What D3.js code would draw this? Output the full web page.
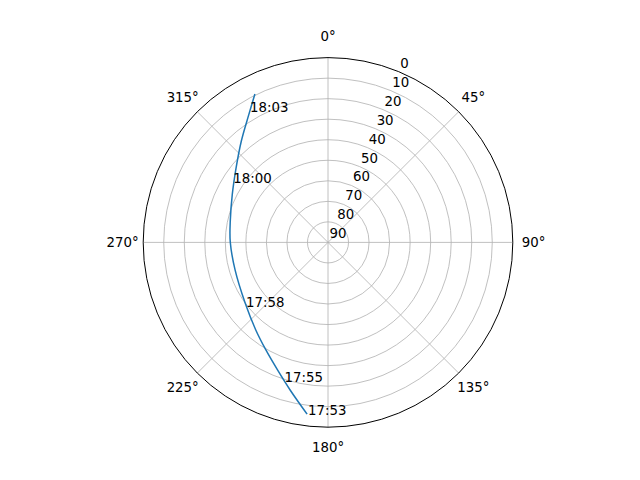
<!DOCTYPE html>
<html>
<head>
<meta charset="utf-8">
<script src="https://cdn.jsdelivr.net/npm/d3@7"></script>
<style>
html,body{margin:0;padding:0;background:#fff;}
svg{display:block;}
text{font-family:"DejaVu Sans",sans-serif;font-size:13.33px;fill:#000;}
</style>
</head>
<body>
<div id="chart"></div>
<script>
// Track of the pass: azimuth (deg, clockwise from north) and elevation (deg)
const trackAz = [187.1, 194.4, 201.6, 210.0, 219.5, 233.8, 253.5, 270.2, 282.2, 296.5, 309.0, 319.4, 328.2, 333.6];
const trackEl = [6.0, 15.8, 23.2, 29.5, 34.7, 40.0, 42.8, 42.4, 41.3, 37.9, 32.4, 25.1, 16.8, 9.7];

// Time labels along the track
const labelTimes = ["17:53", "17:55", "17:58", "18:00", "18:03"];
const labelAz = [186.6, 197.3, 231.8, 302.0, 329.2];
const labelEl = [5.6, 18.9, 39.2, 35.6, 15.9];

// Axis ticks
const angleTicks = [0, 45, 90, 135, 180, 225, 270, 315];
const radialTicks = [0, 10, 20, 30, 40, 50, 60, 70, 80, 90];

const W = 640, H = 480;
const cx = 328, cy = 242.4, R = 184.8;

const svg = d3.select("#chart").append("svg").attr("width", W).attr("height", H);
const g = svg.append("g").attr("transform", `translate(${cx},${cy})`);

const rScale = d3.scaleLinear().domain([90, 0]).range([0, R]);
const aScale = d3.scaleLinear().domain([0, 360]).range([0, 2 * Math.PI]);

const px = (az, el) => rScale(el) * Math.sin(aScale(az));
const py = (az, el) => -rScale(el) * Math.cos(aScale(az));

// radial grid circles
g.selectAll("circle.grid").data(radialTicks.filter(v => v > 0 && v < 90))
  .enter().append("circle")
  .attr("r", d => rScale(d))
  .attr("fill", "none").attr("stroke", "#b0b0b0").attr("stroke-width", 0.8);

// angular grid lines
g.selectAll("line.agrid").data(angleTicks).enter().append("line")
  .attr("x1", 0).attr("y1", 0)
  .attr("x2", d => R * Math.sin(aScale(d)))
  .attr("y2", d => -R * Math.cos(aScale(d)))
  .attr("stroke", "#b0b0b0").attr("stroke-width", 0.8);

// track line
const line = d3.lineRadial()
  .angle((d, i) => aScale(trackAz[i]))
  .radius((d, i) => rScale(trackEl[i]))
  .curve(d3.curveCatmullRom.alpha(0.5));
g.append("path").datum(trackAz)
  .attr("d", line)
  .attr("fill", "none").attr("stroke", "#1f77b4").attr("stroke-width", 1.5)
  .attr("stroke-linecap", "square");

// outer spine
g.append("circle").attr("r", R).attr("fill", "none").attr("stroke", "#000").attr("stroke-width", 1);

// angle tick labels
g.selectAll("text.alab").data(angleTicks).enter().append("text")
  .attr("x", d => 205.5 * Math.sin(aScale(d)))
  .attr("y", d => -205.5 * Math.cos(aScale(d)))
  .attr("text-anchor", "middle")
  .attr("dominant-baseline", "central")
  .text(d => d + "°");

// radial tick labels at 22.5°
const rlab = aScale(22.5);
g.selectAll("text.rlab").data(radialTicks).enter().append("text")
  .attr("x", d => rScale(d) * Math.sin(rlab) + 1.5)
  .attr("y", d => -rScale(d) * Math.cos(rlab) - 4)
  .attr("text-anchor", "start")
  .text(d => d);

// time labels
g.selectAll("text.tlab").data(labelTimes).enter().append("text")
  .attr("x", (d, i) => px(labelAz[i], labelEl[i]))
  .attr("y", (d, i) => py(labelAz[i], labelEl[i]))
  .attr("text-anchor", "start")
  .text(d => d);
</script>
</body>
</html>
